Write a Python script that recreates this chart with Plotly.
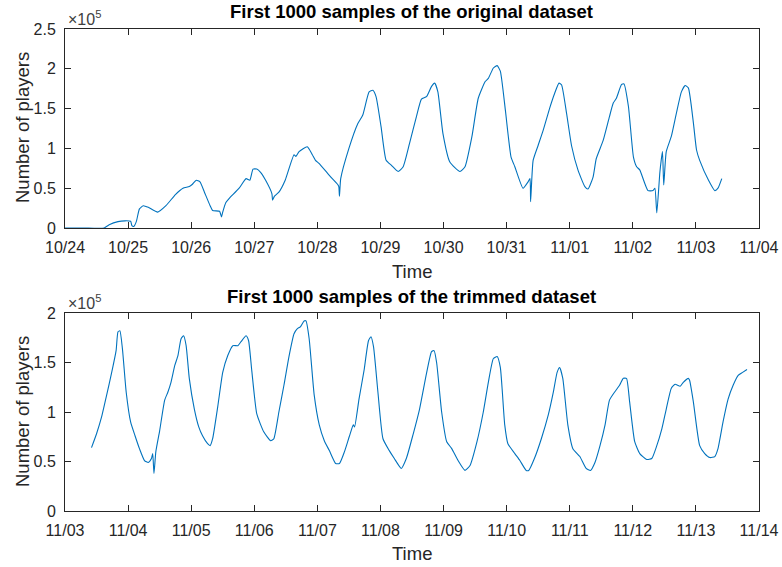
import pandas as pd
import plotly.graph_objects as go

# ---- data ----
orig_start = "2015-10-24"
orig_days = [0.0, 0.3, 0.62, 0.7, 0.84, 0.95, 1.04, 1.06, 1.09, 1.13, 1.18, 1.24, 1.32, 1.47, 1.6, 1.75,
             1.87, 1.97, 2.02, 2.08, 2.14, 2.21, 2.3, 2.34, 2.45, 2.48, 2.5, 2.55, 2.6, 2.76, 2.87, 2.93,
             2.98, 3.04, 3.1, 3.18, 3.28, 3.29, 3.32, 3.39, 3.49, 3.63, 3.66, 3.71, 3.84, 3.92, 3.97, 4.03,
             4.19, 4.32, 4.34, 4.35, 4.37, 4.5, 4.64, 4.72, 4.82, 4.88, 4.93, 5.01, 5.09, 5.17, 5.28, 5.36,
             5.46, 5.57, 5.65, 5.73, 5.81, 5.86, 5.91, 5.99, 6.1, 6.26, 6.34, 6.45, 6.55, 6.66, 6.71, 6.79,
             6.85, 6.9, 6.98, 7.07, 7.13, 7.26, 7.34, 7.37, 7.38, 7.42, 7.5, 7.58, 7.68, 7.76, 7.83, 7.87,
             7.95, 8.03, 8.13, 8.24, 8.29, 8.37, 8.42, 8.53, 8.63, 8.69, 8.74, 8.82, 8.86, 8.93, 9.01, 9.06,
             9.11, 9.24, 9.32, 9.35, 9.38, 9.43, 9.47, 9.49, 9.53, 9.61, 9.69, 9.77, 9.83, 9.88, 9.96, 10.01,
             10.06, 10.2, 10.3, 10.35, 10.41]
orig_players = [0, 0, 0, 4000, 8000, 9000, 8500, 3000, 2000, 8000, 24000, 28000, 26000, 20000, 28000, 42000,
                50000, 52000, 55000, 60000, 58000, 45000, 28000, 22000, 21000, 14000, 20000, 32000, 37000, 50000, 62000, 60000,
                74000, 74000, 70000, 60000, 43000, 35000, 40000, 45000, 60000, 92000, 90000, 96000, 102000, 92000, 85000, 81000,
                66000, 55000, 52000, 40000, 62000, 100000, 131000, 142000, 171000, 173000, 165000, 127000, 85000, 79000, 71000, 77000,
                106000, 140000, 162000, 165000, 178000, 182000, 171000, 119000, 83000, 71000, 77000, 115000, 163000, 184000, 188000, 201000,
                204000, 197000, 148000, 89000, 77000, 50000, 58000, 62000, 33000, 85000, 104000, 123000, 150000, 169000, 182000, 180000,
                144000, 103000, 73000, 52000, 49000, 64000, 87000, 110000, 140000, 157000, 163000, 180000, 181000, 153000, 89000, 77000,
                73000, 47000, 47000, 50000, 19000, 71000, 96000, 54000, 96000, 115000, 144000, 171000, 179000, 176000, 132000, 98000,
                85000, 60000, 47000, 50000, 62000]

trim_start = "2015-11-03"
trim_days = [0.42, 0.5, 0.58, 0.66, 0.74, 0.81, 0.84, 0.87, 0.91, 0.97, 1.04, 1.11, 1.18, 1.26, 1.32, 1.37,
             1.39, 1.41, 1.44, 1.5, 1.58, 1.63, 1.68, 1.74, 1.79, 1.84, 1.88, 1.92, 1.97, 2.05, 2.12, 2.18,
             2.26, 2.3, 2.34, 2.42, 2.5, 2.58, 2.66, 2.74, 2.79, 2.87, 2.91, 2.96, 3.04, 3.15, 3.26, 3.31,
             3.39, 3.47, 3.55, 3.63, 3.68, 3.73, 3.79, 3.82, 3.87, 3.95, 4.03, 4.11, 4.19, 4.29, 4.35, 4.43,
             4.51, 4.57, 4.59, 4.66, 4.74, 4.81, 4.85, 4.89, 4.96, 5.04, 5.14, 5.22, 5.33, 5.41, 5.52, 5.62,
             5.73, 5.81, 5.85, 5.89, 5.97, 6.05, 6.13, 6.23, 6.34, 6.42, 6.53, 6.63, 6.71, 6.79, 6.85, 6.9,
             6.97, 7.02, 7.13, 7.21, 7.31, 7.35, 7.44, 7.55, 7.66, 7.74, 7.8, 7.84, 7.89, 7.97, 8.05, 8.16,
             8.26, 8.33, 8.4, 8.48, 8.56, 8.63, 8.71, 8.79, 8.85, 8.9, 8.95, 9.03, 9.11, 9.22, 9.3, 9.38,
             9.46, 9.53, 9.61, 9.67, 9.75, 9.8, 9.88, 9.9, 9.96, 10.06, 10.14, 10.22, 10.3, 10.35, 10.43, 10.51,
             10.59, 10.67, 10.74, 10.81]
trim_players = [64000, 78000, 95000, 117000, 140000, 162000, 181000, 182000, 164000, 120000, 90000, 76000, 63000, 51000, 49000, 53000,
                58000, 38000, 60000, 81000, 112000, 120000, 130000, 147000, 157000, 174000, 177000, 167000, 134000, 103000, 85000, 76000,
                68000, 66000, 73000, 105000, 140000, 157000, 167000, 167000, 171000, 177000, 172000, 142000, 98000, 80000, 71000, 73000,
                100000, 127000, 156000, 179000, 184000, 186000, 192000, 192000, 174000, 117000, 87000, 71000, 61000, 48000, 48000, 60000,
                76000, 87000, 85000, 113000, 142000, 172000, 176000, 166000, 120000, 73000, 61000, 53000, 43000, 53000, 78000, 103000,
                139000, 161000, 162000, 150000, 100000, 70000, 63000, 51000, 41000, 46000, 70000, 100000, 130000, 154000, 156000, 145000,
                87000, 68000, 58000, 51000, 41000, 41000, 53000, 73000, 97000, 120000, 140000, 145000, 134000, 87000, 63000, 55000,
                43000, 41000, 49000, 66000, 87000, 112000, 120000, 127000, 134000, 134000, 110000, 70000, 58000, 52000, 53000, 66000,
                83000, 103000, 124000, 128000, 126000, 130000, 134000, 132000, 110000, 66000, 58000, 54000, 55000, 63000, 90000, 113000,
                127000, 137000, 140000, 143000]

orig_ticks = ["10/24", "10/25", "10/26", "10/27", "10/28", "10/29", "10/30", "10/31", "11/01", "11/02", "11/03", "11/04"]
trim_ticks = ["11/03", "11/04", "11/05", "11/06", "11/07", "11/08", "11/09", "11/10", "11/11", "11/12", "11/13", "11/14"]
orig_yticks = [0, 50000, 100000, 150000, 200000, 250000]
orig_ytext = ["0", "0.5", "1", "1.5", "2", "2.5"]
trim_yticks = [0, 50000, 100000, 150000, 200000]
trim_ytext = ["0", "0.5", "1", "1.5", "2"]

# ---- build ----
orig_t = pd.Timestamp(orig_start) + pd.to_timedelta(orig_days, unit="D")
trim_t = pd.Timestamp(trim_start) + pd.to_timedelta(trim_days, unit="D")
orig_tickvals = pd.date_range(orig_start, periods=len(orig_ticks), freq="D")
trim_tickvals = pd.date_range(trim_start, periods=len(trim_ticks), freq="D")

W, H = 782, 567
FONT = "Liberation Sans, Arial, Helvetica, sans-serif"
AXC = "#262626"
LINE = "#0072BD"

fig = go.Figure()
fig.add_trace(go.Scatter(x=orig_t, y=orig_players, mode="lines",
                         line=dict(color=LINE, width=1.1, shape="spline", smoothing=0.5),
                         xaxis="x", yaxis="y", showlegend=False))
fig.add_trace(go.Scatter(x=trim_t, y=trim_players, mode="lines",
                         line=dict(color=LINE, width=1.1, shape="spline", smoothing=0.5),
                         xaxis="x2", yaxis="y2", showlegend=False))

xdom = [65 / W, 759 / W]
top_dom = [(H - 228) / H, (H - 29) / H]
bot_dom = [(H - 511) / H, (H - 313) / H]

common_axis = dict(showline=True, linecolor=AXC, linewidth=1, mirror="ticks", ticks="inside",
                   ticklen=6, tickcolor=AXC, showgrid=False, zeroline=False, automargin=False,
                   ticklabelstandoff=5,
                   tickfont=dict(family=FONT, size=16, color=AXC))

fig.update_layout(
    width=W, height=H, margin=dict(l=0, r=0, t=0, b=0, autoexpand=False),
    paper_bgcolor="white", plot_bgcolor="white",
    xaxis=dict(domain=xdom, anchor="y", type="date",
               range=[orig_tickvals[0], orig_tickvals[-1]],
               tickvals=list(orig_tickvals), ticktext=orig_ticks, **common_axis),
    yaxis=dict(domain=top_dom, anchor="x", range=[0, 250000],
               tickvals=orig_yticks, ticktext=orig_ytext, **common_axis),
    xaxis2=dict(domain=xdom, anchor="y2", type="date",
                range=[trim_tickvals[0], trim_tickvals[-1]],
                tickvals=list(trim_tickvals), ticktext=trim_ticks, **common_axis),
    yaxis2=dict(domain=bot_dom, anchor="x2", range=[0, 200000],
                tickvals=trim_yticks, ticktext=trim_ytext, **common_axis),
)

def ann(text, x, y, size, bold=False, angle=0, color=AXC, xanchor="center", yanchor="middle"):
    fig.add_annotation(text=("<b>%s</b>" % text) if bold else text, x=x / W, y=1 - y / H,
                       xref="paper", yref="paper", showarrow=False, textangle=angle,
                       xanchor=xanchor, yanchor=yanchor,
                       font=dict(family=FONT, size=size, color=color))

ann("First 1000 samples of the original dataset", 412, 11, 18.5, bold=True, color="black")
ann("First 1000 samples of the trimmed dataset", 412, 296, 18.5, bold=True, color="black")
ann("Time", 412, 271, 18.5)
ann("Time", 412, 553, 18.5)
ann("Number of players", 22, 128, 18.5, angle=-90)
ann("Number of players", 22, 412, 18.5, angle=-90)
ann("×10<sup>5</sup>", 66, 18, 16, color="#404040", xanchor="left")
ann("×10<sup>5</sup>", 66, 302, 16, color="#404040", xanchor="left")

fig.write_html("out.html")
